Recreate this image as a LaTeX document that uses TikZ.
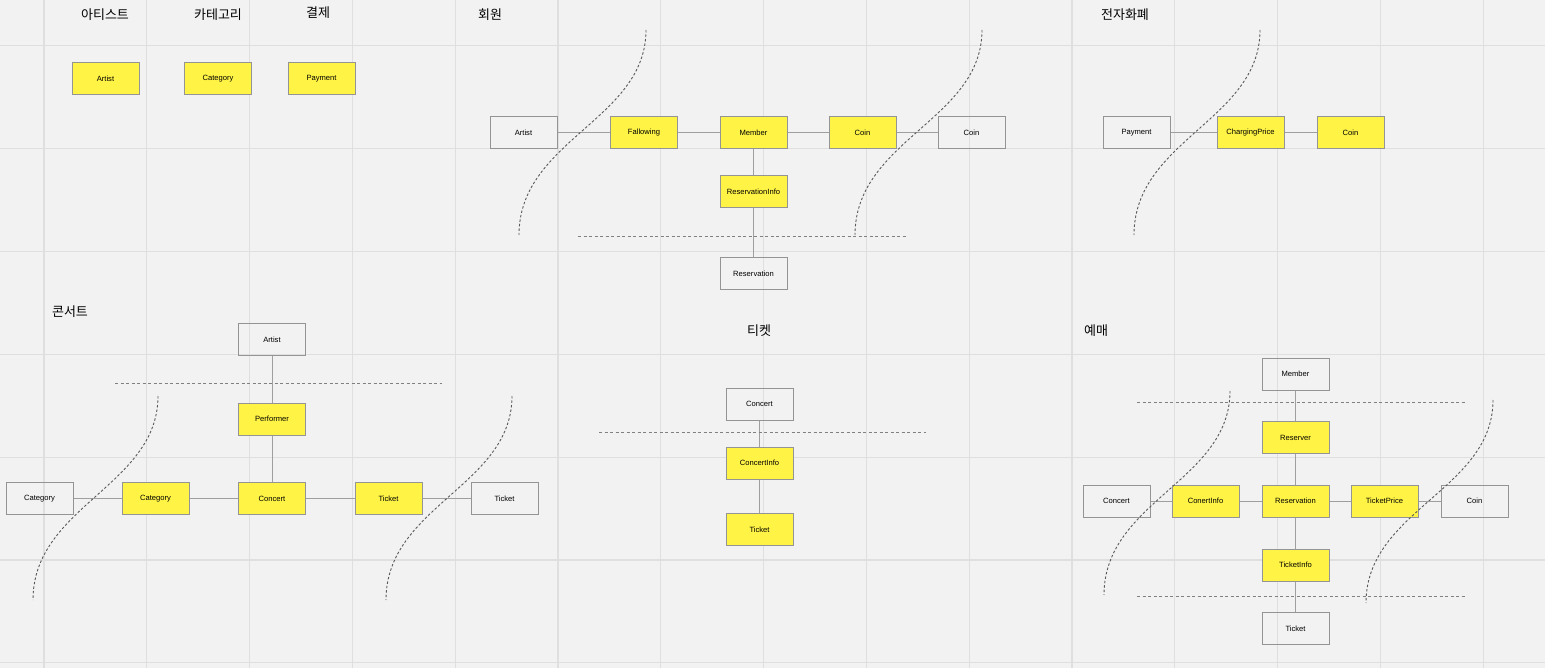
\documentclass[tikz,border=0pt]{standalone}
\usepackage{fontspec}
\setmainfont{Liberation Sans}
\newfontfamily\kr{Noto Sans CJK KR}
\definecolor{paper}{HTML}{F2F2F2}
\definecolor{gridc}{HTML}{DFDFDF}
\definecolor{note}{HTML}{FFF445}
\definecolor{edge}{HTML}{949494}
\begin{document}
\begin{tikzpicture}[x=1pt, y=-1pt,
	ent/.style={draw=edge, line width=1pt, minimum width=67pt, minimum height=32pt, inner sep=0pt, font=\fontsize{7.6}{8}\selectfont},
	tbl/.style={ent, fill=note},
	link/.style={draw=gray!75, line width=1pt},
	cut/.style={draw=black!65, line width=0.9pt, dash pattern=on 2.5pt off 2pt},
	wall/.style={draw=black!50, line width=0.9pt, dash pattern=on 3pt off 2.5pt},
	title/.style={font=\kr\fontsize{13}{15}\selectfont}]
	\useasboundingbox[fill=paper] (0,0) rectangle (1545,668);
	\foreach \i in {0,...,14} \draw[gridc, line width=1.1pt] (44+102.8*\i,0) -- (44+102.8*\i,668);
	\foreach \j in {0,...,6} \draw[gridc, line width=1.1pt] (0,45.5+102.9*\j) -- (1545,45.5+102.9*\j);
	% titles
	\node[title] (t1) at (105,15) {아티스트};
	\node[title] (t2) at (218,15) {카테고리};
	\node[title] (t3) at (318,13) {결제};
	\node[title] (t4) at (490,15) {회원};
	\node[title] (t5) at (1125,15) {전자화폐};
	\node[title] (t6) at (70,312) {콘서트};
	\node[title] (t7) at (759,331) {티켓};
	\node[title] (t8) at (1096,331) {예매};
	% single tables
	\node[tbl] (topArtist) at (105.5,79) {Artist};
	\node[tbl] (topCategory) at (218,79) {Category};
	\node[tbl] (topPayment) at (321.5,79) {Payment};
	% member
	\node[ent] (mArtist) at (523.5,133) {Artist};
	\node[tbl] (mFallowing) at (644,133) {Fallowing};
	\node[tbl] (mMember) at (753.5,133) {Member};
	\node[tbl] (mCoinT) at (862.5,133) {Coin};
	\node[ent] (mCoin) at (971.5,133) {Coin};
	\node[tbl] (mResInfo) at (753.5,191.5) {ReservationInfo};
	\node[ent] (mRes) at (753.5,274) {Reservation};
	\draw[link] (mArtist) -- (mFallowing) -- (mMember) -- (mCoinT) -- (mCoin);
	\draw[link] (mMember) -- (mResInfo) -- (mRes);
	\draw[wall] (578,236) -- (906,236);
	\draw[cut] (646,30) .. controls (646,120) and (519,140) .. (519,235);
	\draw[cut] (982,30) .. controls (982,120) and (855,140) .. (855,235);
	% e-money
	\node[ent] (wPayment) at (1136.5,133) {Payment};
	\node[tbl] (wCharge) at (1250.5,133) {ChargingPrice};
	\node[tbl] (wCoin) at (1350.5,133) {Coin};
	\draw[link] (wPayment) -- (wCharge) -- (wCoin);
	\draw[cut] (1260,30) .. controls (1260,120) and (1134,140) .. (1134,235);
	% concert
	\node[ent] (cArtist) at (272,339.5) {Artist};
	\node[tbl] (cPerformer) at (272,419) {Performer};
	\node[ent] (cCategory) at (39.5,498.5) {Category};
	\node[tbl] (cCategoryT) at (155.5,498.5) {Category};
	\node[tbl] (cConcert) at (272,498.5) {Concert};
	\node[tbl] (cTicketT) at (388.5,498.5) {Ticket};
	\node[ent] (cTicket) at (504.5,498.5) {Ticket};
	\draw[link] (cArtist) -- (cPerformer) -- (cConcert);
	\draw[link] (cCategory) -- (cCategoryT) -- (cConcert) -- (cTicketT) -- (cTicket);
	\draw[wall] (115,383) -- (442,383);
	\draw[cut] (158,396) .. controls (158,486) and (33,506) .. (33,600);
	\draw[cut] (512,396) .. controls (512,486) and (386,506) .. (386,600);
	% ticket
	\node[ent] (tConcert) at (759.5,404) {Concert};
	\node[tbl] (tInfo) at (759.5,463) {ConcertInfo};
	\node[tbl] (tTicket) at (759.5,529.5) {Ticket};
	\draw[link] (tConcert) -- (tInfo) -- (tTicket);
	\draw[wall] (599,432) -- (926,432);
	% reservation
	\node[ent] (rMember) at (1295.5,374) {Member};
	\node[tbl] (rReserver) at (1295.5,437.5) {Reserver};
	\node[ent] (rConcert) at (1116.5,501) {Concert};
	\node[tbl] (rConcertInfo) at (1205.5,501) {ConertInfo};
	\node[tbl] (rRes) at (1295.5,501) {Reservation};
	\node[tbl] (rPrice) at (1384.5,501) {TicketPrice};
	\node[ent] (rCoin) at (1474.5,501) {Coin};
	\node[tbl] (rTicketInfo) at (1295.5,565) {TicketInfo};
	\node[ent] (rTicket) at (1295.5,628.5) {Ticket};
	\draw[link] (rMember) -- (rReserver) -- (rRes) -- (rTicketInfo) -- (rTicket);
	\draw[link] (rConcert) -- (rConcertInfo) -- (rRes) -- (rPrice) -- (rCoin);
	\draw[wall] (1137,402) -- (1465,402);
	\draw[wall] (1137,596) -- (1465,596);
	\draw[cut] (1230,391) .. controls (1230,481) and (1104,501) .. (1104,595);
	\draw[cut] (1493,400) .. controls (1493,490) and (1366,510) .. (1366,603);
\end{tikzpicture}
\end{document}
